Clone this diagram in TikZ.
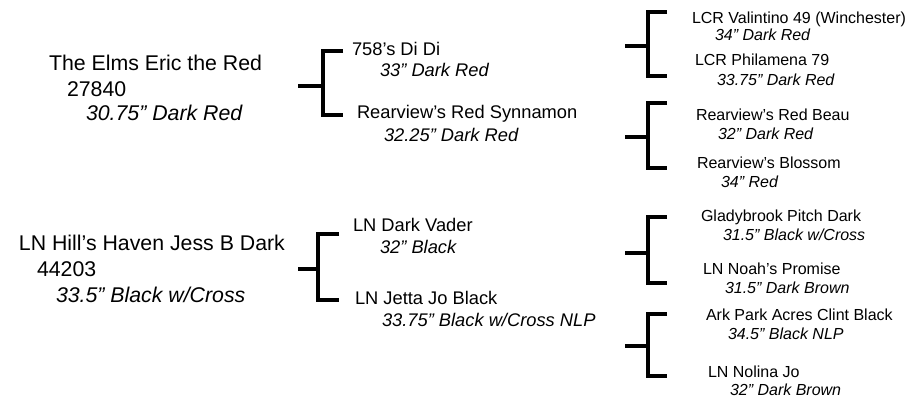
\documentclass[tikz,border=0pt]{standalone}
\usepackage{fontspec}
\setmainfont{Liberation Sans}
\begin{document}
\begin{tikzpicture}[x=1pt,y=-1pt,
  lbl/.style={anchor=base west,inner sep=0pt,outer sep=0pt},
  big/.style={lbl,font=\fontsize{21.3}{25}\selectfont},
  mid/.style={lbl,font=\fontsize{18.3}{22}\selectfont},
  sml/.style={lbl,font=\fontsize{16}{19}\selectfont},
  bigi/.style={lbl,font=\fontsize{21.3}{25}\selectfont\itshape},
  midi/.style={lbl,font=\fontsize{18.3}{22}\selectfont\itshape},
  smli/.style={lbl,font=\fontsize{16}{19}\selectfont\itshape},
  br/.style={line width=4pt,line join=miter}]
\useasboundingbox (0,0) rectangle (911,397);
% roots
\node[big]  (aN) at (49,70)  {The Elms Eric the Red};
\node[big]  (aR) at (67,96)  {27840};
\node[bigi] (aC) at (86,120) {30.75” Dark Red};
\node[big]  (bN) at (19,250) {LN Hill’s Haven Jess B Dark};
\node[big]  (bR) at (37,276) {44203};
\node[bigi] (bC) at (56,302) {33.5” Black w/Cross};
% parents
\node[mid]  (p1N) at (352,55)  {758’s Di Di};
\node[midi] (p1C) at (380,76)  {33” Dark Red};
\node[mid]  (p2N) at (357,118) {Rearview’s Red Synnamon};
\node[midi] (p2C) at (384,141) {32.25” Dark Red};
\node[mid]  (p3N) at (353,231) {LN Dark Vader};
\node[midi] (p3C) at (380,253) {32” Black};
\node[mid]  (p4N) at (355,304) {LN Jetta Jo Black};
\node[midi] (p4C) at (382,326) {33.75” Black w/Cross NLP};
% grandparents
\node[sml]  (g1N) at (692,23)  {LCR Valintino 49 (Winchester)};
\node[smli] (g1C) at (715,40)  {34” Dark Red};
\node[sml]  (g2N) at (695,65)  {LCR Philamena 79};
\node[smli] (g2C) at (717,85)  {33.75” Dark Red};
\node[sml]  (g3N) at (696,120) {Rearview’s Red Beau};
\node[smli] (g3C) at (718,139) {32” Dark Red};
\node[sml]  (g4N) at (697,168) {Rearview’s Blossom};
\node[smli] (g4C) at (721,187) {34” Red};
\node[sml]  (g5N) at (701,221) {Gladybrook Pitch Dark};
\node[smli] (g5C) at (723,240) {31.5” Black w/Cross};
\node[sml]  (g6N) at (703,274) {LN Noah’s Promise};
\node[smli] (g6C) at (725,293) {31.5” Dark Brown};
\node[sml]  (g7N) at (706,320) {Ark Park Acres Clint Black};
\node[smli] (g7C) at (728,339) {34.5” Black NLP};
\node[sml]  (g8N) at (708,377) {LN Nolina Jo};
\node[smli] (g8C) at (730,395) {32” Dark Brown};
% bracket coordinates
\coordinate (aS) at (298,86);  \coordinate (aM) at (323,86);
\coordinate (aT) at (323,51);  \coordinate (aB) at (323,115);
\coordinate (aT2) at (343,51); \coordinate (aB2) at (343,115);
\coordinate (bS) at (298,269); \coordinate (bM) at (318,269);
\coordinate (bT) at (318,234); \coordinate (bB) at (318,300);
\coordinate (bT2) at (339,234);\coordinate (bB2) at (339,300);
\foreach \k/\m/\t/\b in {1/46/12/76, 2/137/102.5/168, 3/253/216.5/283, 4/346/313.5/376}{
  \coordinate (r\k S) at (625,\m); \coordinate (r\k M) at (648,\m);
  \coordinate (r\k T) at (648,\t); \coordinate (r\k B) at (648,\b);
  \coordinate (r\k T2) at (667,\t); \coordinate (r\k B2) at (667,\b);
}
\draw[br] (aS) -- (aM);
\draw[br] (aT2) -- (aT) -- (aB) -- (aB2);
\draw[br] (bS) -- (bM);
\draw[br] (bT2) -- (bT) -- (bB) -- (bB2);
\foreach \k in {1,2,3,4}{
  \draw[br] (r\k S) -- (r\k M);
  \draw[br] (r\k T2) -- (r\k T) -- (r\k B) -- (r\k B2);
}
\end{tikzpicture}
\end{document}
